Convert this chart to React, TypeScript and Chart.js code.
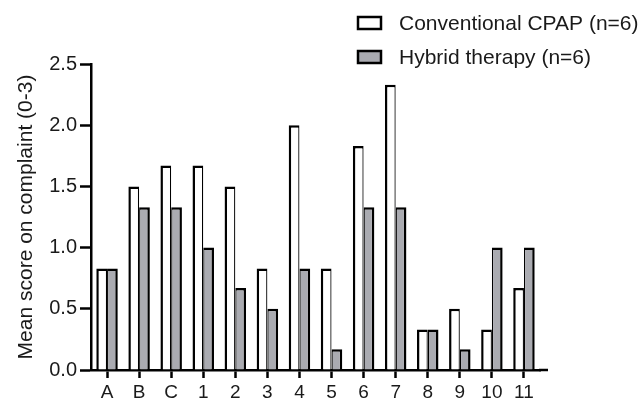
import React, { useEffect, useRef } from "react";
import { Chart, registerables } from "chart.js";

Chart.register(...registerables);

const categories = ["A", "B", "C", "1", "2", "3", "4", "5", "6", "7", "8", "9", "10", "11"];
const conventionalValues = [0.83, 1.5, 1.67, 1.67, 1.5, 0.83, 2.0, 0.83, 1.83, 2.33, 0.33, 0.5, 0.33, 0.67];
const hybridValues = [0.83, 1.33, 1.33, 1.0, 0.67, 0.5, 0.83, 0.17, 1.33, 1.33, 0.33, 0.17, 1.0, 1.0];
const seriesLabels = ["Conventional CPAP (n=6)", "Hybrid therapy (n=6)"];
const yTicks = [0, 0.5, 1.0, 1.5, 2.0, 2.5];

const FONT = "'Liberation Sans', Arial, Helvetica, sans-serif";
const TEXT = "#1a1a1a";

const legendPlugin = {
  id: "customLegend",
  afterDraw(chart: any) {
    const ctx = chart.ctx;
    const rows = [23, 57];
    ctx.save();
    chart.data.datasets.forEach((ds: any, i: number) => {
      const cy = rows[i];
      ctx.fillStyle = ds.backgroundColor;
      ctx.fillRect(358, cy - 6, 23, 12);
      ctx.strokeStyle = "#000";
      ctx.lineWidth = 2.5;
      ctx.strokeRect(358, cy - 6, 23, 12);
      ctx.fillStyle = TEXT;
      ctx.font = `21px ${FONT}`;
      ctx.textBaseline = "middle";
      ctx.textAlign = "left";
      ctx.fillText(ds.label, 399, cy + 1);
    });
    ctx.restore();
  },
};

const axisExtendPlugin = {
  id: "axisExtend",
  afterDraw(chart: any) {
    const { ctx, chartArea } = chart;
    ctx.save();
    ctx.strokeStyle = "#000";
    ctx.lineWidth = 2.5;
    ctx.beginPath();
    ctx.moveTo(chartArea.right - 1, chartArea.bottom);
    ctx.lineTo(chartArea.right + 8, chartArea.bottom);
    ctx.stroke();
    ctx.restore();
  },
};

export default function App() {
  const canvasRef = useRef<HTMLCanvasElement | null>(null);

  useEffect(() => {
    document.body.style.margin = "0";
    const canvas = canvasRef.current;
    if (!canvas) return;
    const chart = new Chart(canvas, {
      type: "bar",
      data: {
        labels: categories,
        datasets: [
          {
            label: seriesLabels[0],
            data: conventionalValues,
            backgroundColor: "#ffffff",
            borderColor: "#000000",
            borderWidth: { top: 2.5, left: 2.5, right: 1.25, bottom: 0 } as any,
            borderSkipped: "start",
            categoryPercentage: 0.67,
            barPercentage: 1.0,
          },
          {
            label: seriesLabels[1],
            data: hybridValues,
            backgroundColor: "#aaabb1",
            borderColor: "#000000",
            borderWidth: { top: 2.5, left: 1.25, right: 2.5, bottom: 0 } as any,
            borderSkipped: "start",
            categoryPercentage: 0.67,
            barPercentage: 1.0,
          },
        ],
      },
      options: {
        animation: false,
        responsive: false,
        maintainAspectRatio: false,
        layout: { padding: { top: 64, right: 104, bottom: 0, left: 0 } },
        plugins: {
          legend: { display: false },
          tooltip: { enabled: false },
        },
        scales: {
          x: {
            type: "category",
            offset: true,
            grid: {
              offset: false,
              drawOnChartArea: false,
              drawTicks: true,
              tickLength: 8,
              tickWidth: 2.5,
              tickColor: "#000",
            },
            border: { display: true, color: "#000", width: 2.5 },
            ticks: {
              color: TEXT,
              font: { family: FONT, size: 19 },
              padding: 3,
              maxRotation: 0,
              autoSkip: false,
            },
            afterFit(scale: any) {
              scale.height = 30;
            },
          },
          y: {
            min: 0,
            max: 2.5,
            afterBuildTicks(scale: any) {
              scale.ticks = yTicks.map((v) => ({ value: v }));
            },
            grid: {
              drawOnChartArea: false,
              drawTicks: true,
              tickLength: 11,
              tickWidth: 2.5,
              tickColor: "#000",
            },
            border: { display: true, color: "#000", width: 2.5 },
            ticks: {
              color: TEXT,
              font: { family: FONT, size: 20 },
              padding: 3,
              callback: (v: any) => Number(v).toFixed(1),
            },
            title: {
              display: true,
              text: "Mean score on complaint (0-3)",
              color: TEXT,
              font: { family: FONT, size: 21 },
              padding: { top: 14, bottom: 14 },
            },
            afterFit(scale: any) {
              scale.width = 91;
            },
          },
        },
      },
      plugins: [legendPlugin, axisExtendPlugin],
    });
    return () => chart.destroy();
  }, []);

  return (
    <div style={{ width: 644, height: 400, position: "relative" }}>
      <canvas ref={canvasRef} width={644} height={400} style={{ display: "block", width: 644, height: 400 }} />
    </div>
  );
}
